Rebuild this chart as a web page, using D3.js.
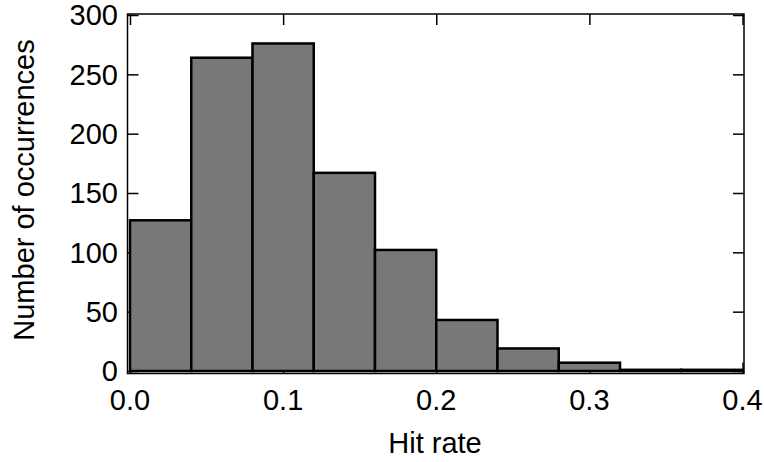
<!DOCTYPE html>
<html>
<head>
<meta charset="utf-8">
<script src="https://cdn.jsdelivr.net/npm/d3@7"></script>
<style>
  html, body { margin: 0; padding: 0; background: #fff; }
  svg { display: block; }
  text { font-family: "Liberation Sans", Arial, sans-serif; fill: #000; }
</style>
</head>
<body>
<svg id="chart" width="764" height="462"></svg>
<script>
// Histogram data
const binStarts = [0.00, 0.04, 0.08, 0.12, 0.16, 0.20, 0.24, 0.28, 0.32, 0.36];
const binWidth = 0.04;
const counts = [127, 264, 276, 167, 102, 43, 19, 7, 1, 1];
const xTicks = [0.0, 0.1, 0.2, 0.3, 0.4];
const yTicks = [0, 50, 100, 150, 200, 250, 300];
const xLabel = "Hit rate";
const yLabel = "Number of occurrences";

(function () {
const svg = d3.select("#chart");
const fL = 127.5, fR = 744, fT = 14, fB = 373.5;

const x = d3.scaleLinear().domain([0, 0.4]).range([130, 742.5]);
const y = d3.scaleLinear().domain([0, 300]).range([371, 15]);

const fs = 29;
const tickLen = 11;

function styleAxis(g) {
  g.select(".domain").remove();
  g.selectAll(".tick line").attr("stroke", "#000").attr("stroke-width", 1.5);
  g.selectAll(".tick text").remove();
}

// inward ticks drawn beneath the bars
svg.append("g").attr("transform", `translate(0,${fB})`)
  .call(d3.axisBottom(x).tickValues(xTicks).tickSize(-tickLen)).call(styleAxis);
svg.append("g").attr("transform", `translate(0,${fT})`)
  .call(d3.axisTop(x).tickValues(xTicks).tickSize(-tickLen)).call(styleAxis);
svg.append("g").attr("transform", `translate(${fL},0)`)
  .call(d3.axisLeft(y).tickValues(yTicks).tickSize(-tickLen)).call(styleAxis);
svg.append("g").attr("transform", `translate(${fR},0)`)
  .call(d3.axisRight(y).tickValues(yTicks).tickSize(-tickLen)).call(styleAxis);

// bars
svg.append("g").selectAll("rect").data(counts).join("rect")
  .attr("x", (d, i) => x(binStarts[i]))
  .attr("width", (d, i) => x(binStarts[i] + binWidth) - x(binStarts[i]))
  .attr("y", d => y(d))
  .attr("height", d => y(0) - y(d))
  .attr("fill", "#787878")
  .attr("stroke", "#000")
  .attr("stroke-width", 2.5);

// frame
svg.append("rect")
  .attr("x", fL).attr("y", fT)
  .attr("width", fR - fL).attr("height", fB - fT)
  .attr("fill", "none").attr("stroke", "#000").attr("stroke-width", 1.5);

// tick labels
svg.append("g").selectAll("text").data(xTicks).join("text")
  .attr("x", d => x(d)).attr("y", 410)
  .attr("text-anchor", "middle")
  .style("font-size", fs + "px")
  .text(d => d.toFixed(1));

svg.append("g").selectAll("text").data(yTicks).join("text")
  .attr("x", 118).attr("y", d => y(d))
  .attr("dy", "0.36em")
  .attr("text-anchor", "end")
  .style("font-size", fs + "px")
  .text(d => d);

// axis labels
svg.append("text")
  .attr("x", 435).attr("y", 453)
  .attr("text-anchor", "middle")
  .style("font-size", fs + "px")
  .text(xLabel);

svg.append("text")
  .attr("transform", "translate(34,190) rotate(-90)")
  .attr("text-anchor", "middle")
  .style("font-size", fs + "px")
  .text(yLabel);
})();
</script>
</body>
</html>
